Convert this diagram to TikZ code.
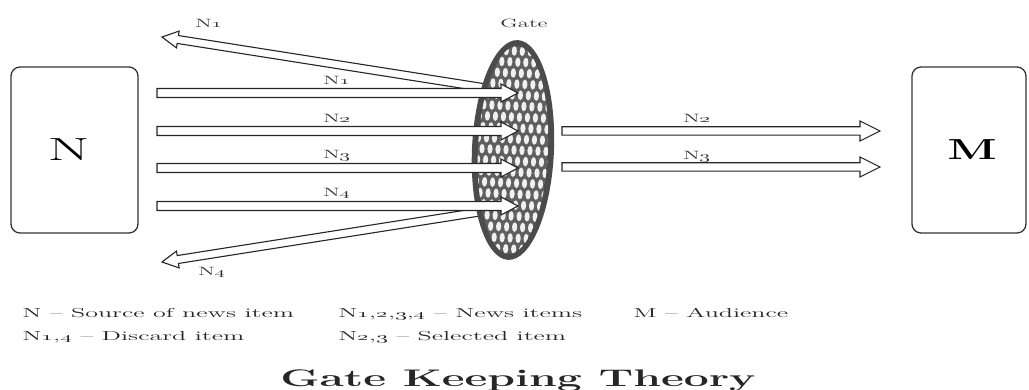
\documentclass[tikz,border=0pt]{standalone}
\usepackage{graphicx}
\usetikzlibrary{calc}

\newcommand{\os}[1]{\oldstylenums{#1}}
% 空心箭头: #1 起点, #2 终点, #3 箭身半宽, #4 箭头半宽, #5 箭头长度
\newcommand{\hollowarrow}[5]{%
  \coordinate (hc) at ($(#2)!#5!(#1)$);
  \draw[arrowline] ($(#1)!#3!90:(#2)$) -- ($(hc)!#3!90:(#2)$) -- ($(hc)!#4!90:(#2)$)
    -- (#2) -- ($(hc)!#4!-90:(#2)$) -- ($(hc)!#3!-90:(#2)$) -- ($(#1)!#3!-90:(#2)$) -- cycle;}

\begin{document}
\begin{tikzpicture}[x=1pt, y=-1pt, line join=miter,
    arrowline/.style={draw=black!85, line width=1.1pt, fill=white},
    srcbox/.style={draw=black!80, line width=1.3pt, rounded corners=9pt, inner sep=0pt,
      minimum height=166pt},
    lbl/.style={font=\fontsize{12}{14}\selectfont, xscale=1.9, text=black!80, inner sep=0pt},
    legtxt/.style={font=\fontsize{13}{15}\selectfont, xscale=2, text=black!85,
      anchor=base west, inner sep=0pt}]
				\useasboundingbox (0,0) rectangle (1029,390);
				\definecolor{gatecol}{RGB}{75,75,75}
				\definecolor{meshcol}{RGB}{95,95,95}
				
				% 1. 坐标
				\foreach \k/\y in {1/93, 2/131, 3/168, 4/206} {
					\coordinate (a\k s) at (157,\y);
					\coordinate (a\k e) at (518,\y);
				}
				\coordinate (gate) at (513,150);
				\coordinate (b2s) at (562,131); \coordinate (b2e) at (880,131);
				\coordinate (b3s) at (562,167); \coordinate (b3e) at (880,167);
				\coordinate (d1s) at (505,91);  \coordinate (d1e) at (162,37);
				\coordinate (d4s) at (505,208); \coordinate (d4e) at (162,262);
				
				% 2. 被丢弃的新闻 (最底层)
				\hollowarrow{d1s}{d1e}{4pt}{8.5pt}{16pt}
				\hollowarrow{d4s}{d4e}{4pt}{8.5pt}{16pt}
				
				% 3. 门 (网状椭圆)
				\begin{scope}[rotate around={-2.5:(gate)}]
					\fill[gatecol] (gate) ellipse (41pt and 110pt);
					\begin{scope}
						\clip (gate) ellipse (35pt and 104pt);
						\fill[meshcol] (gate) ellipse (35pt and 104pt);
						\foreach \i in {0,...,11}
							\foreach \j in {0,...,20}
								\fill[white!94!black] ({466+8*\i+4*mod(\j,2)}, {40+11*\j}) ellipse (2.6pt and 4.8pt);
					\end{scope}
				\end{scope}
				\node[lbl] (gatelbl) at (524,23) {Gate};
				
				% 4. 新闻流
				\foreach \k in {1,...,4} {
					\hollowarrow{a\k s}{a\k e}{4.5pt}{9pt}{17pt}
				}
				\hollowarrow{b2s}{b2e}{4.2pt}{10pt}{20pt}
				\hollowarrow{b3s}{b3e}{4.2pt}{10pt}{20pt}
				
				% 5. 标签
				\node[lbl] (l1) at (337,80) {N\os{1}};
				\node[lbl] (l2) at (337,118) {N\os{2}};
				\node[lbl] (l3) at (337,156) {N\os{3}};
				\node[lbl] (l4) at (337,194) {N\os{4}};
				\node[lbl] (r2) at (697,118) {N\os{2}};
				\node[lbl] (r3) at (697,157) {N\os{3}};
				\node[lbl] (dl1) at (209,23) {N\os{1}};
				\node[lbl] (dl4) at (212,273) {N\os{4}};
				
				% 6. 新闻来源与受众
				\node[srcbox, minimum width=127pt,
				  label={[font=\fontsize{32}{36}\selectfont, xscale=1.9, xshift=-3pt]center:N}] (src) at (74.5,150) {};
				\node[srcbox, minimum width=114pt,
				  label={[font=\fontsize{29}{33}\selectfont\bfseries, xscale=1.6, xshift=2pt]center:M}] (aud) at (969,150) {};
				
				% 7. 图例与标题
				\node[legtxt] (leg1) at (22,318) {N -- Source of news item};
				\node[legtxt] (leg2) at (338,318) {N\os{1},\os{2},\os{3},\os{4} -- News items};
				\node[legtxt] (leg3) at (633,318) {M -- Audience};
				\node[legtxt] (leg4) at (22,341) {N\os{1},\os{4} -- Discard item};
				\node[legtxt] (leg5) at (338,341) {N\os{2},\os{3} -- Selected item};
				\node[font=\fontsize{24}{28}\selectfont\bfseries, xscale=1.85, anchor=base, inner sep=0pt,
				  text=black!85] (title) at (518,386) {Gate Keeping Theory};
			\end{tikzpicture}
\end{document}
